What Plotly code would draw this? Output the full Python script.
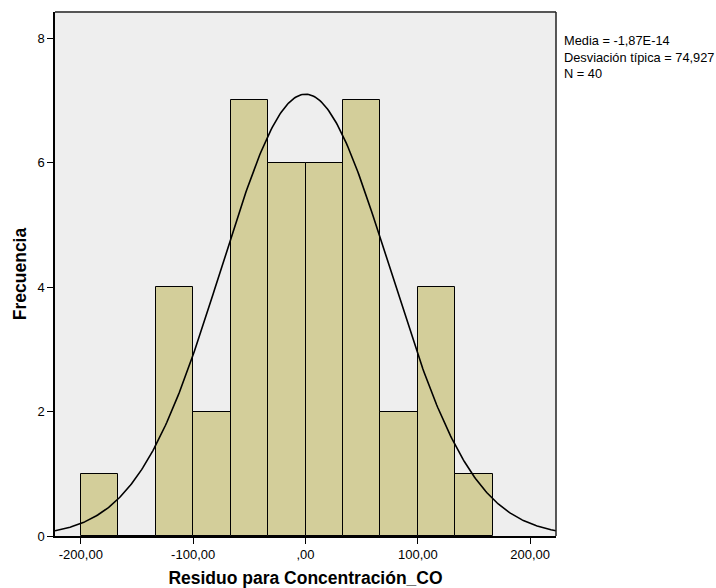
import numpy as np
import plotly.graph_objects as go

# Histogram of regression residuals with fitted normal curve
bin_edges = [-200.0, -166.667, -133.333, -100.0, -66.667, -33.333, 0.0,
             33.333, 66.667, 100.0, 133.333, 166.667]
counts = [1, 0, 4, 2, 7, 6, 6, 7, 2, 4, 1]
mean = -1.87e-14
std_dev = 74.927
n_obs = 40
x_ticks = [-200, -100, 0, 100, 200]
x_tick_labels = ["-200,00", "-100,00", ",00", "100,00", "200,00"]
y_ticks = [0, 2, 4, 6, 8]

centers = [(a + b) / 2 for a, b in zip(bin_edges[:-1], bin_edges[1:])]
widths = [b - a for a, b in zip(bin_edges[:-1], bin_edges[1:])]
bin_w = widths[0]

xs = np.linspace(-223, 223, 400)
ys = n_obs * bin_w * np.exp(-0.5 * ((xs - mean) / std_dev) ** 2) / (std_dev * np.sqrt(2 * np.pi))

fig = go.Figure()
fig.add_trace(go.Bar(
    x=centers, y=counts, width=widths,
    marker=dict(color="#D3CE9A", line=dict(color="#000000", width=1)),
    hoverinfo="x+y",
))
fig.add_trace(go.Scatter(
    x=xs, y=ys, mode="lines",
    line=dict(color="#000000", width=1.6),
    hoverinfo="skip",
))

font_family = "Liberation Sans, Arial, sans-serif"
fig.update_layout(
    width=716, height=588,
    margin=dict(l=55, r=160, t=12, b=52),
    paper_bgcolor="#FFFFFF",
    plot_bgcolor="#EEEEEE",
    showlegend=False,
    bargap=0,
    font=dict(family=font_family, size=13, color="#000000"),
    xaxis=dict(
        range=[-223, 223], tickvals=x_ticks, ticktext=x_tick_labels,
        ticks="outside", ticklen=6, tickcolor="#000000", tickwidth=1,
        showline=True, linecolor="#000000", linewidth=1.5,
        showgrid=False, zeroline=False, automargin=False,
        tickfont=dict(size=13),
        title=dict(text="<b>Residuo para Concentración_CO</b>",
                   font=dict(size=17.5), standoff=10),
    ),
    yaxis=dict(
        range=[0, 8.42], tickvals=y_ticks,
        ticks="outside", ticklen=6, tickcolor="#000000", tickwidth=1,
        showline=True, linecolor="#000000", linewidth=1.5,
        showgrid=False, zeroline=False, automargin=False,
        tickfont=dict(size=13),
        title=dict(text="<b>Frecuencia</b>", font=dict(size=17.5), standoff=6),
    ),
    shapes=[
        dict(type="line", xref="paper", yref="paper", x0=0, x1=1, y0=1, y1=1,
             line=dict(color="#555555", width=2)),
        dict(type="line", xref="paper", yref="paper", x0=1, x1=1, y0=0, y1=1,
             line=dict(color="#222222", width=1.5)),
    ],
    annotations=[
        dict(xref="paper", yref="paper", x=1.012, y=0.963, xanchor="left", yanchor="top",
             align="left", showarrow=False, font=dict(size=12.8),
             text=f"Media = -1,87E-14<br>Desviación típica = 74,927<br>N = {n_obs}"),
    ],
)

fig.write_html("out.html")
